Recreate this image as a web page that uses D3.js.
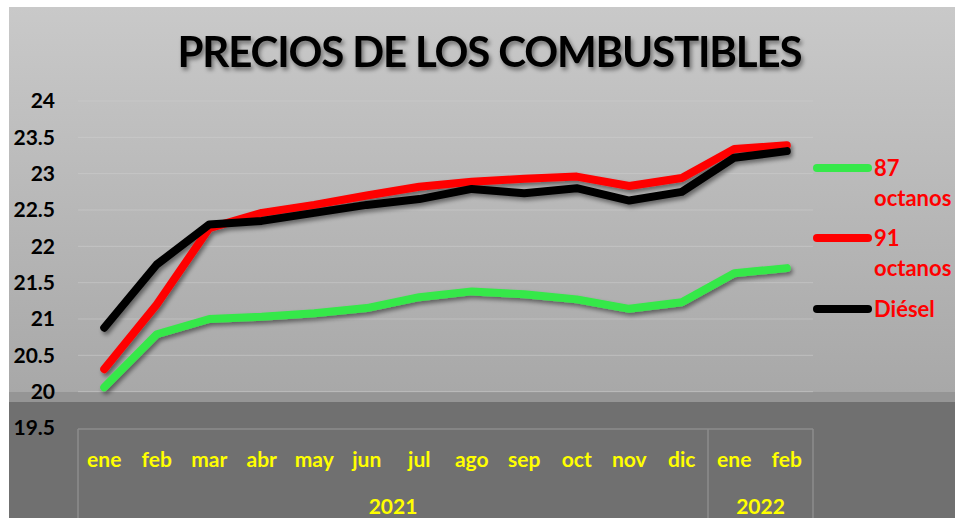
<!DOCTYPE html>
<html>
<head>
<meta charset="utf-8">
<script src="https://d3js.org/d3.v7.min.js"></script>
<style>
  body { margin: 0; background: #fff; }
  text { font-family: Lato, "Open Sans", sans-serif; font-weight: bold; }
</style>
</head>
<body>
<div id="chart"></div>
<script>
// data
var months = ["ene","feb","mar","abr","may","jun","jul","ago","sep","oct","nov","dic","ene","feb"];
var years = [{label: "2021", count: 12}, {label: "2022", count: 2}];
var octanos87 = [20.06, 20.79, 21.00, 21.03, 21.08, 21.15, 21.30, 21.38, 21.34, 21.27, 21.14, 21.23, 21.63, 21.70];
var octanos91 = [20.31, 21.20, 22.25, 22.46, 22.57, 22.70, 22.82, 22.89, 22.93, 22.96, 22.83, 22.94, 23.34, 23.39];
var diesel    = [20.88, 21.75, 22.30, 22.35, 22.46, 22.57, 22.65, 22.79, 22.73, 22.80, 22.63, 22.75, 23.22, 23.31];
var yTicks = [19.5, 20, 20.5, 21, 21.5, 22, 22.5, 23, 23.5, 24];

var series = [
  {name: ["87", "octanos"], values: octanos87, color: "#36e84a"},
  {name: ["91", "octanos"], values: octanos91, color: "#ff0000"},
  {name: ["Diésel"], values: diesel, color: "#000000"}
];

var W = 958, H = 518;
var svg = d3.select("#chart").append("svg")
    .attr("width", W)
    .attr("height", H);

var defs = svg.append("defs");
var grad = defs.append("linearGradient")
    .attr("id", "bg").attr("x1", 0).attr("y1", 0).attr("x2", 0).attr("y2", 1);
grad.append("stop").attr("offset", "0%").attr("stop-color", "#c9c9c9");
grad.append("stop").attr("offset", "100%").attr("stop-color", "#a8a8a8");

var shadow = defs.append("filter").attr("id", "shadow")
    .attr("x", "-10%").attr("y", "-10%").attr("width", "130%").attr("height", "140%");
shadow.append("feDropShadow")
    .attr("dx", 2).attr("dy", 3).attr("stdDeviation", 2)
    .attr("flood-color", "#000").attr("flood-opacity", 0.45);

// background
svg.append("rect").attr("x", 9).attr("y", 7).attr("width", 946).attr("height", 385)
    .attr("fill", "url(#bg)");
svg.append("rect").attr("x", 9).attr("y", 392).attr("width", 946).attr("height", 10)
    .attr("fill", "#959595");
svg.append("rect").attr("x", 9).attr("y", 402).attr("width", 946).attr("height", 116)
    .attr("fill", "#707070");

// scales
var x = d3.scaleBand().domain(d3.range(months.length)).range([78, 813]);
var y = d3.scaleLinear().domain([19.5, 24]).range([428, 101]);
var cx = function(i) { return x(i) + x.bandwidth() / 2; };

// gridlines
svg.append("g").selectAll("line")
    .data(yTicks.filter(function(d) { return d > 19.5; }))
  .enter().append("line")
    .attr("x1", 78).attr("x2", 813)
    .attr("y1", function(d) { return y(d); })
    .attr("y2", function(d) { return y(d); })
    .attr("stroke", "#d2d2d2").attr("stroke-opacity", 0.5).attr("stroke-width", 1);

// y labels
svg.append("g").selectAll("text")
    .data(yTicks)
  .enter().append("text")
    .attr("x", 55)
    .attr("y", function(d) { return y(d); })
    .attr("dy", "0.35em")
    .attr("text-anchor", "end")
    .attr("font-size", 21)
    .attr("fill", "#000")
    .text(function(d) { return d; });

// category box
var box = svg.append("g").attr("stroke", "#8c8c8c").attr("stroke-width", 1.5).attr("fill", "none");
box.append("line").attr("x1", 78).attr("x2", 813).attr("y1", y(19.5) + 1).attr("y2", y(19.5) + 1);
var edge = 0;
var edges = [x(0)];
years.forEach(function(yr) { edge += yr.count; edges.push(x(edge - 1) + x.bandwidth()); });
edges.forEach(function(e) {
  box.append("line").attr("x1", e).attr("x2", e).attr("y1", y(19.5) + 1).attr("y2", H);
});

// month labels
svg.append("g").selectAll("text")
    .data(months)
  .enter().append("text")
    .attr("x", function(d, i) { return cx(i); })
    .attr("y", 467)
    .attr("text-anchor", "middle")
    .attr("font-size", 21)
    .attr("fill", "#ffff00")
    .text(function(d) { return d; });

// year labels
svg.append("g").selectAll("text")
    .data(years)
  .enter().append("text")
    .attr("x", function(d, i) { return (edges[i] + edges[i + 1]) / 2; })
    .attr("y", 514)
    .attr("text-anchor", "middle")
    .attr("font-size", 21)
    .attr("fill", "#ffff00")
    .text(function(d) { return d.label; });

// lines
var line = d3.line()
    .x(function(d, i) { return cx(i); })
    .y(function(d) { return y(d); });

svg.append("g").attr("filter", "url(#shadow)").selectAll("path")
    .data(series)
  .enter().append("path")
    .attr("fill", "none")
    .attr("stroke", function(d) { return d.color; })
    .attr("stroke-width", 8)
    .attr("stroke-linecap", "round")
    .attr("stroke-linejoin", "round")
    .attr("d", function(d) { return line(d.values); });

// legend
var legendY = [168, 238, 309];
var leg = svg.append("g").selectAll("g")
    .data(series)
  .enter().append("g")
    .attr("transform", function(d, i) { return "translate(0," + legendY[i] + ")"; });
leg.append("line")
    .attr("x1", 817).attr("x2", 868).attr("y1", 0).attr("y2", 0)
    .attr("stroke", function(d) { return d.color; })
    .attr("stroke-width", 8)
    .attr("stroke-linecap", "round");
leg.each(function(d) {
  var g = d3.select(this);
  d.name.forEach(function(t, j) {
    g.append("text")
      .attr("x", 874)
      .attr("y", j * 30)
      .attr("dy", "0.35em")
      .attr("font-size", 22)
      .attr("fill", "#ff0000")
      .text(t);
  });
});

// title
svg.append("text")
    .attr("x", 490)
    .attr("y", 67)
    .attr("text-anchor", "middle")
    .attr("font-size", 42)
    .attr("textLength", 625)
    .attr("lengthAdjust", "spacing")
    .attr("fill", "#000")
    .attr("filter", "url(#shadow)")
    .text("PRECIOS DE LOS COMBUSTIBLES");
</script>
</body>
</html>
